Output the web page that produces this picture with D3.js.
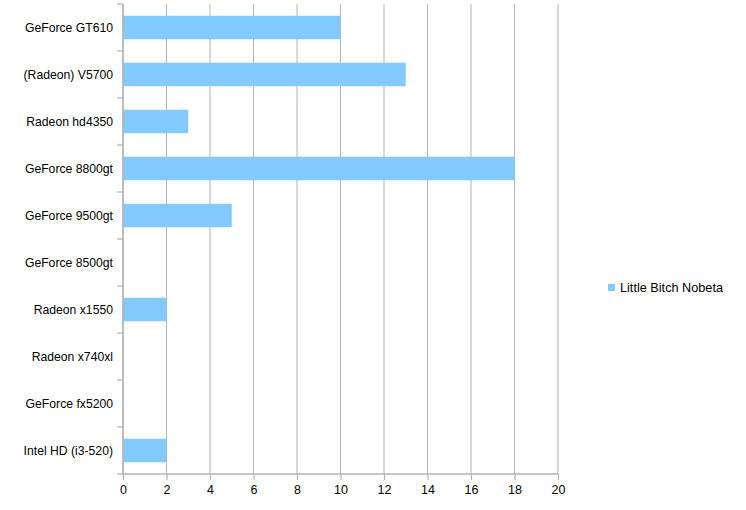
<!DOCTYPE html>
<html>
<head>
  <meta charset="UTF-8">
  <style>
    body {
      margin: 0;
      padding: 0;
      background-color: #ffffff;
      font-family: "Liberation Sans", Arial, sans-serif;
    }
    svg {
      display: block;
    }
    .tick text {
      font-size: 12.5px;
      fill: #000000;
    }
  </style>
</head>
<body>
  <svg></svg>
  <script src="https://d3js.org/d3.v7.min.js"></script>
  <script>
  let width = 746, height = 510;

  // chart data
  const categories = ["GeForce GT610", "(Radeon) V5700", "Radeon hd4350", "GeForce 8800gt",
      "GeForce 9500gt", "GeForce 8500gt", "Radeon x1550", "Radeon x740xl",
      "GeForce fx5200", "Intel HD (i3-520)"];
  const values = [10, 13, 3, 18, 5, 0, 2, 0, 0, 2];
  const xTicks = [0, 2, 4, 6, 8, 10, 12, 14, 16, 18, 20];
  const seriesName = "Little Bitch Nobeta";

  const barColor = "#83caff";
  const gridColor = "#b3b3b3";

  let svg = d3.select("svg")
      .attr("width", width)
      .attr("height", height);

  const plotLeft = 123, plotRight = 558, plotTop = 4, plotBottom = 474;

  let x = d3.scaleLinear()
      .domain([0, 20])
      .range([plotLeft, plotRight]);

  let y = d3.scaleBand()
      .domain(categories)
      .range([plotTop, plotBottom])
      .paddingInner(0.5)
      .paddingOuter(0.25);

  // vertical grid lines
  svg.append("g")
      .selectAll("line")
      .data(xTicks)
      .enter()
      .append("line")
      .attr("x1", d => x(d))
      .attr("x2", d => x(d))
      .attr("y1", plotTop)
      .attr("y2", plotBottom)
      .attr("stroke", gridColor)
      .attr("stroke-width", 1);

  // bars
  svg.append("g")
      .selectAll("rect")
      .data(values)
      .enter()
      .append("rect")
      .attr("x", x(0))
      .attr("y", (d, i) => y(categories[i]))
      .attr("width", d => x(d) - x(0))
      .attr("height", y.bandwidth())
      .attr("fill", barColor);

  // x axis
  let xAxis = svg.append("g")
      .attr("transform", `translate(0, ${plotBottom})`)
      .call(d3.axisBottom(x).tickValues(xTicks).tickSize(6).tickPadding(5));
  xAxis.select(".domain").attr("stroke", gridColor).attr("stroke-width", 1.5)
      .attr("d", `M${plotLeft},0H${plotRight}`);
  xAxis.selectAll(".tick line").attr("stroke", gridColor).attr("stroke-width", 1.2);
  xAxis.selectAll(".tick text").style("font-family", "Liberation Sans, Arial, sans-serif");

  // y axis: ticks at category boundaries
  const boundaries = d3.range(categories.length + 1).map(i => plotTop + i * (plotBottom - plotTop) / categories.length);
  svg.append("line")
      .attr("x1", plotLeft).attr("x2", plotLeft)
      .attr("y1", plotTop).attr("y2", plotBottom)
      .attr("stroke", gridColor)
      .attr("stroke-width", 1.5);
  svg.append("g")
      .selectAll("line")
      .data(boundaries)
      .enter()
      .append("line")
      .attr("x1", plotLeft - 6)
      .attr("x2", plotLeft)
      .attr("y1", d => d)
      .attr("y2", d => d)
      .attr("stroke", gridColor)
      .attr("stroke-width", 1.2);

  svg.append("g")
      .selectAll("text")
      .data(categories)
      .enter()
      .append("text")
      .attr("x", plotLeft - 10)
      .attr("y", d => y(d) + y.bandwidth() / 2)
      .attr("dy", "0.35em")
      .attr("text-anchor", "end")
      .style("font-size", "12.2px")
      .style("font-family", "Liberation Sans, Arial, sans-serif")
      .text(d => d);

  // legend
  const legend = svg.append("g")
      .attr("transform", "translate(608, 284)");
  legend.append("rect")
      .attr("x", 0)
      .attr("y", 0)
      .attr("width", 7)
      .attr("height", 7)
      .attr("fill", barColor);
  legend.append("text")
      .attr("x", 12)
      .attr("y", 4)
      .attr("dy", "0.35em")
      .style("font-size", "12.7px")
      .style("font-family", "Liberation Sans, Arial, sans-serif")
      .text(seriesName);
  </script>
</body>
</html>
